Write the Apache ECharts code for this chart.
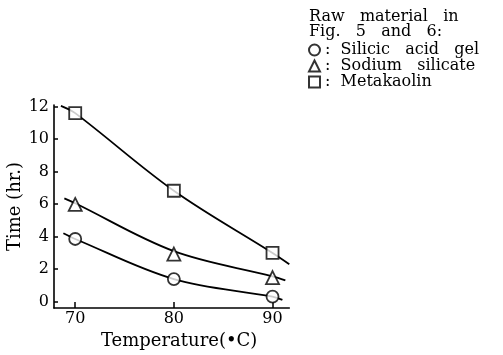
<!DOCTYPE html>
<html>
<head>
<meta charset="utf-8">
<script src="https://cdn.jsdelivr.net/npm/echarts@6/dist/echarts.min.js"></script>
<style>
html,body{margin:0;padding:0;background:#fff;}
#chart{width:503px;height:355px;}
</style>
</head>
<body>
<div id="chart"></div>
<script>
// ---- data ----
const temps = [70, 80, 90];
const xTicks = [70, 80, 90];
const yTicks = [0, 2, 4, 6, 8, 10, 12];

const seriesNames = ['Silicic acid gel', 'Sodium silicate', 'Metakaolin'];
const silicicAcidGel = [3.85, 1.38, 0.3];
const sodiumSilicate = [5.98, 2.92, 1.47];
const metakaolin = [11.6, 6.82, 2.99];

// fitted curves drawn through the points (temperature, time)
const silicicCurve = [[68.8, 4.2], [70, 3.85], [80, 1.38], [90, 0.3], [91.0, 0.1]];
const sodiumCurve = [[68.9, 6.35], [70, 6.05], [80, 3.1], [90, 1.55], [91.3, 1.3]];
const metakaolinCurve = [[68.55, 12.05], [70, 11.6], [80, 6.82], [90, 2.99], [91.7, 2.3]];

const headingLines = ['Raw   material   in', 'Fig.   5   and   6:'];
const legendLabels = ['Silicic   acid   gel', 'Sodium   silicate', 'Metakaolin'];
const xName = 'Temperature(\u2022C)';
const yName = 'Time (hr.)';

// ---- chart ----
const FONT = 'DejaVu Serif';
const INK = '#000';
const symbols = ['circle', 'triangle', 'rect'];
const symbolSizes = [12, 13, 12];
const values = [silicicAcidGel, sodiumSilicate, metakaolin];
const curves = [silicicCurve, sodiumCurve, metakaolinCurve];

const series = [];
seriesNames.forEach((name, i) => {
  series.push({
    name: name,
    type: 'scatter',
    symbol: symbols[i],
    symbolSize: symbolSizes[i],
    itemStyle: { color: '#fff', borderColor: INK, borderWidth: 1.8 },
    z: 5,
    data: temps.map((t, k) => [t, values[i][k]])
  });
});
seriesNames.forEach((name, i) => {
  series.push({
    name: name,
    type: 'line',
    smooth: 0.35,
    showSymbol: false,
    symbol: 'none',
    lineStyle: { color: INK, width: 1.8 },
    z: 3,
    silent: true,
    data: curves[i]
  });
});

const chart = echarts.init(document.getElementById('chart'), null, { renderer: 'canvas' });
chart.setOption({
  animation: false,
  backgroundColor: '#fff',
  title: {
    text: headingLines.join('\n'),
    left: 309,
    top: 9,
    padding: 0,
    textStyle: { fontFamily: FONT, fontSize: 16, fontWeight: 'normal', color: INK, lineHeight: 15 }
  },
  legend: {
    orient: 'vertical',
    left: 308,
    top: 42,
    padding: 0,
    itemWidth: 11,
    itemHeight: 11,
    itemGap: 0,
    selectedMode: false,
    formatter: n => ':  ' + legendLabels[seriesNames.indexOf(n)],
    textStyle: { fontFamily: FONT, fontSize: 16, color: INK, lineHeight: 14 },
    data: seriesNames.map((n, i) => ({
      name: n,
      icon: symbols[i],
      itemStyle: { color: '#fff', borderColor: INK, borderWidth: 2 }
    }))
  },
  grid: { left: 54, right: 213.7, top: 105, bottom: 45.7, containLabel: false },
  xAxis: {
    type: 'value',
    min: 67.85,
    max: 91.7,
    name: xName,
    nameLocation: 'middle',
    nameGap: 24,
    nameTextStyle: { fontFamily: FONT, fontSize: 18, color: INK, padding: [0, 0, 0, 15] },
    axisLine: { onZero: false, lineStyle: { color: INK, width: 1.6 } },
    axisTick: { inside: true, length: 6, customValues: xTicks, lineStyle: { color: INK, width: 1.5 } },
    axisLabel: { customValues: xTicks, margin: 3, fontFamily: FONT, fontSize: 16, color: INK },
    splitLine: { show: false }
  },
  yAxis: {
    type: 'value',
    min: -0.4,
    max: 12.1,
    name: yName,
    nameLocation: 'middle',
    nameGap: 28,
    nameTextStyle: { fontFamily: FONT, fontSize: 18, color: INK },
    axisLine: { onZero: false, lineStyle: { color: INK, width: 1.6 } },
    axisTick: { inside: true, length: 4, customValues: yTicks, lineStyle: { color: INK, width: 1.5 } },
    axisLabel: { customValues: yTicks, margin: 5, fontFamily: FONT, fontSize: 16, color: INK },
    splitLine: { show: false }
  },
  series: series
});
</script>
</body>
</html>
